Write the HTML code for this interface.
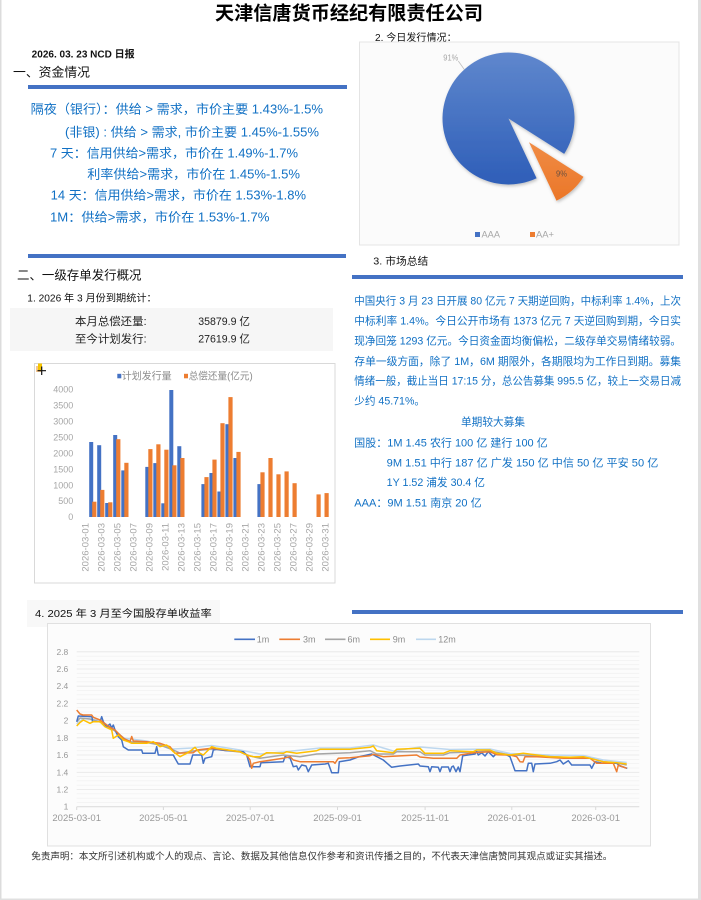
<!DOCTYPE html>
<html><head><meta charset="utf-8"><style>
html,body{margin:0;padding:0;background:#fff;}
body{width:701px;height:900px;overflow:hidden;position:relative;}
svg{position:absolute;left:0;top:0;}
text{font-family:"Liberation Sans","Noto Sans CJK SC",sans-serif;}
</style></head><body>
<svg width="701" height="900" viewBox="0 0 701 900" xmlns="http://www.w3.org/2000/svg">
<defs>
<linearGradient id="gb" x1="0" y1="0" x2="0" y2="1"><stop offset="0" stop-color="#5f87cd"/><stop offset="1" stop-color="#2e5eb8"/></linearGradient>
<linearGradient id="go" x1="0" y1="0" x2="0" y2="1"><stop offset="0" stop-color="#f08c45"/><stop offset="1" stop-color="#eb7628"/></linearGradient>
<filter id="sh" x="-20%" y="-20%" width="140%" height="140%"><feDropShadow dx="1" dy="1.5" stdDeviation="1.5" flood-color="#000" flood-opacity="0.25"/></filter>
</defs>
<!-- page borders -->
<rect x="0" y="0" width="1.5" height="900" fill="#dcdcdc"/>
<rect x="698" y="0" width="3" height="900" fill="#e0e0e0"/>
<rect x="0" y="898.5" width="701" height="1.5" fill="#e0e0e0"/>

<!-- Title -->
<text x="215" y="19.3" font-size="19" font-weight="700" fill="#000" textLength="268" lengthAdjust="spacingAndGlyphs">天津信唐货币经纪有限责任公司</text>
<text x="31.7" y="57.7" font-size="10" font-weight="700" fill="#111" textLength="103" lengthAdjust="spacingAndGlyphs">2026. 03. 23 NCD 日报</text>
<text x="13" y="76.6" font-size="12.5" fill="#111" textLength="77" lengthAdjust="spacingAndGlyphs">一、资金情况</text>
<rect x="28" y="85" width="319" height="4" fill="#4472c4"/>

<!-- blue money lines -->
<g font-size="12.7" fill="#1070c4">
<text x="30.7" y="113.7" textLength="292.3" lengthAdjust="spacingAndGlyphs">隔夜（银行）：供给 &gt; 需求，市价主要 1.43%-1.5%</text>
<text x="65" y="136.4" textLength="254" lengthAdjust="spacingAndGlyphs">(非银) : 供给 &gt; 需求, 市价主要 1.45%-1.55%</text>
<text x="50" y="157.4" textLength="248" lengthAdjust="spacingAndGlyphs">7 天：信用供给&gt;需求，市价在 1.49%-1.7%</text>
<text x="87.3" y="178.7" textLength="212.7" lengthAdjust="spacingAndGlyphs">利率供给&gt;需求，市价在 1.45%-1.5%</text>
<text x="50.7" y="199.7" textLength="255.3" lengthAdjust="spacingAndGlyphs">14 天：信用供给&gt;需求，市价在 1.53%-1.8%</text>
<text x="50" y="221.4" textLength="219.5" lengthAdjust="spacingAndGlyphs">1M：供给&gt;需求，市价在 1.53%-1.7%</text>
</g>

<rect x="28" y="254" width="318" height="4" fill="#4472c4"/>
<text x="17" y="279.6" font-size="12.5" fill="#111" textLength="124.5" lengthAdjust="spacingAndGlyphs">二、一级存单发行概况</text>
<text x="27.3" y="301.7" font-size="10" fill="#111" textLength="129.4" lengthAdjust="spacingAndGlyphs">1. 2026 年 3 月份到期统计：</text>
<rect x="10" y="308" width="323" height="43" fill="#f6f6f6"/>
<g font-size="11" fill="#222">
<text x="75" y="324.8" textLength="71.7" lengthAdjust="spacingAndGlyphs">本月总偿还量:</text>
<text x="198.3" y="324.8" textLength="51.7" lengthAdjust="spacingAndGlyphs">35879.9 亿</text>
<text x="75" y="342.4" textLength="71.7" lengthAdjust="spacingAndGlyphs">至今计划发行:</text>
<text x="198.3" y="342.4" textLength="51.7" lengthAdjust="spacingAndGlyphs">27619.9 亿</text>
</g>

<!-- Bar chart -->
<rect x="34.5" y="363.5" width="300.5" height="219.5" fill="#fff" stroke="#d9d9d9" stroke-width="1"/>
<rect x="36" y="366" width="5" height="6" fill="#f0a040" opacity="0.6"/>
<rect x="38" y="363.5" width="4" height="7" fill="#f5c400"/>
<path d="M41.7 366.5V375M37.5 370.7H46" stroke="#111" stroke-width="1.2"/>
<rect x="117.3" y="373.8" width="4" height="4.5" fill="#4472c4"/>
<text x="121.7" y="379.6" font-size="10" fill="#8c8c8c" textLength="50" lengthAdjust="spacingAndGlyphs">计划发行量</text>
<rect x="184" y="373.8" width="4" height="4.5" fill="#ed7d31"/>
<text x="188.7" y="379.6" font-size="10" fill="#8c8c8c" textLength="64" lengthAdjust="spacingAndGlyphs">总偿还量(亿元)</text>
<g font-size="9" fill="#a6a6a6" text-anchor="end">
<text x="73.3" y="520.2">0</text>
<text x="73.3" y="504.2">500</text>
<text x="73.3" y="488.3">1000</text>
<text x="73.3" y="472.4">1500</text>
<text x="73.3" y="456.4">2000</text>
<text x="73.3" y="440.5">2500</text>
<text x="73.3" y="424.5">3000</text>
<text x="73.3" y="408.6">3500</text>
<text x="73.3" y="392.6">4000</text>
</g>
<g fill="#4472c4">
<rect x="89.2" y="442.0" width="4" height="75.0"/>
<rect x="97.2" y="445.2" width="4" height="71.8"/>
<rect x="105.2" y="503.0" width="4" height="14.0"/>
<rect x="113.2" y="435.0" width="4" height="82.0"/>
<rect x="121.3" y="470.4" width="4" height="46.6"/>
<rect x="145.3" y="466.9" width="4" height="50.1"/>
<rect x="153.3" y="463.1" width="4" height="53.9"/>
<rect x="161.3" y="503.3" width="4" height="13.7"/>
<rect x="169.3" y="390.0" width="4" height="127.0"/>
<rect x="177.3" y="446.2" width="4" height="70.8"/>
<rect x="201.4" y="484.1" width="4" height="32.9"/>
<rect x="209.4" y="473.0" width="4" height="44.0"/>
<rect x="217.4" y="491.5" width="4" height="25.5"/>
<rect x="225.4" y="424.2" width="4" height="92.8"/>
<rect x="233.4" y="458.0" width="4" height="59.0"/>
<rect x="257.4" y="484.1" width="4" height="32.9"/>
</g>
<g fill="#ed7d31">
<rect x="92.2" y="501.7" width="4.2" height="15.3"/>
<rect x="100.2" y="489.9" width="4.2" height="27.1"/>
<rect x="108.2" y="502.3" width="4.2" height="14.7"/>
<rect x="116.2" y="439.2" width="4.2" height="77.8"/>
<rect x="124.3" y="462.8" width="4.2" height="54.2"/>
<rect x="148.3" y="449.1" width="4.2" height="67.9"/>
<rect x="156.3" y="444.3" width="4.2" height="72.7"/>
<rect x="164.3" y="449.7" width="4.2" height="67.3"/>
<rect x="172.3" y="465.3" width="4.2" height="51.7"/>
<rect x="180.3" y="458.0" width="4.2" height="59.0"/>
<rect x="204.4" y="477.1" width="4.2" height="39.9"/>
<rect x="212.4" y="459.6" width="4.2" height="57.4"/>
<rect x="220.4" y="423.2" width="4.2" height="93.8"/>
<rect x="228.4" y="397.1" width="4.2" height="119.9"/>
<rect x="236.4" y="451.9" width="4.2" height="65.1"/>
<rect x="260.4" y="472.3" width="4.2" height="44.7"/>
<rect x="268.4" y="458.0" width="4.2" height="59.0"/>
<rect x="276.4" y="474.3" width="4.2" height="42.7"/>
<rect x="284.5" y="471.4" width="4.2" height="45.6"/>
<rect x="292.5" y="483.2" width="4.2" height="33.8"/>
<rect x="316.5" y="494.4" width="4.2" height="22.6"/>
<rect x="324.5" y="493.1" width="4.2" height="23.9"/>
</g>
<g font-size="9.5" fill="#a6a6a6" text-anchor="end">
<text transform="translate(85,523) rotate(-90)" dy="0.35em">2026-03-01</text>
<text transform="translate(101.02,523) rotate(-90)" dy="0.35em">2026-03-03</text>
<text transform="translate(117.04,523) rotate(-90)" dy="0.35em">2026-03-05</text>
<text transform="translate(133.06,523) rotate(-90)" dy="0.35em">2026-03-07</text>
<text transform="translate(149.08,523) rotate(-90)" dy="0.35em">2026-03-09</text>
<text transform="translate(165.1,523) rotate(-90)" dy="0.35em">2026-03-11</text>
<text transform="translate(181.12,523) rotate(-90)" dy="0.35em">2026-03-13</text>
<text transform="translate(197.14,523) rotate(-90)" dy="0.35em">2026-03-15</text>
<text transform="translate(213.16,523) rotate(-90)" dy="0.35em">2026-03-17</text>
<text transform="translate(229.18,523) rotate(-90)" dy="0.35em">2026-03-19</text>
<text transform="translate(245.2,523) rotate(-90)" dy="0.35em">2026-03-21</text>
<text transform="translate(261.22,523) rotate(-90)" dy="0.35em">2026-03-23</text>
<text transform="translate(277.24,523) rotate(-90)" dy="0.35em">2026-03-25</text>
<text transform="translate(293.26,523) rotate(-90)" dy="0.35em">2026-03-27</text>
<text transform="translate(309.28,523) rotate(-90)" dy="0.35em">2026-03-29</text>
<text transform="translate(325.3,523) rotate(-90)" dy="0.35em">2026-03-31</text>
</g>

<!-- Right: pie -->
<text x="375" y="41" font-size="10" fill="#111" textLength="81.7" lengthAdjust="spacingAndGlyphs">2. 今日发行情况：</text>
<rect x="359.5" y="42" width="319.5" height="203" fill="#fbfbfb" stroke="#e4e4e4" stroke-width="1"/>
<path d="M508.5 118.5 L536.6 178.2 A66 66 0 1 1 564.2 153.9 Z" fill="url(#gb)" filter="url(#sh)"/>
<path d="M529 142.3 L583.5 176.9 A64.5 64.5 0 0 1 556.5 200.7 Z" fill="url(#go)" filter="url(#sh)"/>
<text x="443.3" y="60.5" font-size="8.5" fill="#a6a6a6" textLength="15" lengthAdjust="spacingAndGlyphs">91%</text>
<path d="M458.3 61 L464.3 69.5" stroke="#bfbfbf" stroke-width="0.8"/>
<text x="556" y="176.3" font-size="8.5" fill="#6b5040" textLength="11" lengthAdjust="spacingAndGlyphs">9%</text>
<rect x="475" y="232" width="5" height="5" fill="#4472c4"/>
<text x="481.5" y="237.4" font-size="9" fill="#a6a6a6" textLength="18.5" lengthAdjust="spacingAndGlyphs">AAA</text>
<rect x="530" y="232" width="5" height="5" fill="#ed7d31"/>
<text x="536" y="237.4" font-size="9" fill="#a6a6a6" textLength="18" lengthAdjust="spacingAndGlyphs">AA+</text>

<text x="373.3" y="264.6" font-size="10.5" fill="#111" textLength="55" lengthAdjust="spacingAndGlyphs">3. 市场总结</text>
<rect x="352" y="275" width="331" height="4" fill="#4472c4"/>

<g font-size="10.6" fill="#1070c4">
<text x="354.3" y="304.6" textLength="326.7" lengthAdjust="spacingAndGlyphs">中国央行 3 月 23 日开展 80 亿元 7 天期逆回购，中标利率 1.4%，上次</text>
<text x="354.3" y="324.6" textLength="326.7" lengthAdjust="spacingAndGlyphs">中标利率 1.4%。今日公开市场有 1373 亿元 7 天逆回购到期，今日实</text>
<text x="354.3" y="344.6" textLength="326.7" lengthAdjust="spacingAndGlyphs">现净回笼 1293 亿元。今日资金面均衡偏松，二级存单交易情绪较弱。</text>
<text x="354.3" y="364.9" textLength="326.7" lengthAdjust="spacingAndGlyphs">存单一级方面，除了 1M，6M 期限外，各期限均为工作日到期。募集</text>
<text x="354.3" y="384.6" textLength="326.7" lengthAdjust="spacingAndGlyphs">情绪一般，截止当日 17:15 分，总公告募集 995.5 亿，较上一交易日减</text>
<text x="354.3" y="404.6">少约 45.71%。</text>
<text x="461" y="425.6" textLength="64" lengthAdjust="spacingAndGlyphs">单期较大募集</text>
<text x="354.3" y="446.6" textLength="193.4" lengthAdjust="spacingAndGlyphs">国股：1M 1.45 农行 100 亿  建行 100 亿</text>
<text x="386.7" y="466.6" textLength="271.6" lengthAdjust="spacingAndGlyphs">9M 1.51 中行 187 亿  广发 150 亿  中信 50 亿  平安 50 亿</text>
<text x="386.7" y="486.2" textLength="98.3" lengthAdjust="spacingAndGlyphs">1Y 1.52 浦发 30.4 亿</text>
<text x="354.3" y="506.6" textLength="127.3" lengthAdjust="spacingAndGlyphs">AAA：9M 1.51 南京 20 亿</text>
</g>

<!-- Section 4 -->
<rect x="27" y="600" width="193" height="27" fill="#f8f8f8"/>
<text x="35" y="617" font-size="10" fill="#111" textLength="176.7" lengthAdjust="spacingAndGlyphs">4. 2025 年 3 月至今国股存单收益率</text>
<rect x="352" y="610" width="331" height="4" fill="#4472c4"/>
<rect x="47.5" y="623.5" width="603" height="222.5" fill="#fcfcfc" stroke="#e0e0e0" stroke-width="1"/>

<!-- legend -->
<g font-size="9" fill="#8c8c8c">
<path d="M234.3 639.3H255" stroke="#4472c4" stroke-width="1.6"/><text x="256.7" y="642.6">1m</text>
<path d="M279.3 639.3H300" stroke="#ed7d31" stroke-width="1.6"/><text x="303" y="642.6">3m</text>
<path d="M325 639.3H345.5" stroke="#a5a5a5" stroke-width="1.6"/><text x="347.5" y="642.6">6m</text>
<path d="M370 639.3H390" stroke="#ffc000" stroke-width="1.6"/><text x="392.7" y="642.6">9m</text>
<path d="M416 639.3H436" stroke="#bdd7ee" stroke-width="1.6"/><text x="438.3" y="642.6">12m</text>
</g>
<!-- gridlines minor -->
<path stroke="#f1f1f1" stroke-width="0.8" d="M76.7 802.4H639.3M76.7 798.1H639.3M76.7 793.8H639.3M76.7 785.2H639.3M76.7 780.9H639.3M76.7 776.6H639.3M76.7 768.0H639.3M76.7 763.65H639.3M76.7 759.35H639.3M76.7 750.7H639.3M76.7 746.4H639.3M76.7 742.1H639.3M76.7 733.5H639.3M76.7 729.2H639.3M76.7 724.9H639.3M76.7 716.3H639.3M76.7 712.0H639.3M76.7 707.7H639.3M76.7 699.1H639.3M76.7 694.8H639.3M76.7 690.5H639.3M76.7 681.9H639.3M76.7 677.6H639.3M76.7 673.3H639.3M76.7 664.7H639.3M76.7 660.4H639.3M76.7 656.1H639.3"/>
<path stroke="#e6e6e6" stroke-width="0.8" d="M76.7 789.5H639.3M76.7 772.3H639.3M76.7 755.0H639.3M76.7 737.8H639.3M76.7 720.6H639.3M76.7 703.4H639.3M76.7 686.2H639.3M76.7 669.0H639.3M76.7 651.8H639.3"/>
<path stroke="#d9d9d9" stroke-width="1" d="M76.7 806.7H639.3M76.7 806.7V810M163.4 806.7V810M250.2 806.7V810M337.5 806.7V810M425.1 806.7V810M511.8 806.7V810M595.7 806.7V810"/>
<g font-size="8.5" fill="#999" text-anchor="end">
<text x="68.3" y="654.8">2.8</text>
<text x="68.3" y="672.0">2.6</text>
<text x="68.3" y="689.2">2.4</text>
<text x="68.3" y="706.4">2.2</text>
<text x="68.3" y="723.6">2</text>
<text x="68.3" y="740.8">1.8</text>
<text x="68.3" y="758.0">1.6</text>
<text x="68.3" y="775.3">1.4</text>
<text x="68.3" y="792.5">1.2</text>
<text x="68.3" y="809.7">1</text>
</g>
<g font-size="9.5" fill="#999" text-anchor="middle">
<text x="76.7" y="821">2025-03-01</text>
<text x="163.4" y="821">2025-05-01</text>
<text x="250.2" y="821">2025-07-01</text>
<text x="337.5" y="821">2025-09-01</text>
<text x="425.1" y="821">2025-11-01</text>
<text x="511.8" y="821">2026-01-01</text>
<text x="595.7" y="821">2026-03-01</text>
</g>
<g fill="none" stroke-width="1.5" stroke-linejoin="round">
<polyline stroke="#bdd7ee" points="76.7,724 83.3,718.5 100,720 111.7,728 123.3,738 146.7,741 160,744.5 173.3,749 191.7,748 211.7,745.5 240,750 260,754 283.3,752 320,748 350,748 373.3,745 393.3,751 420,747 450,749.5 490,749 510,753.5 550,755 583.3,755.5 603.3,760 626.7,762.5"/>
<polyline stroke="#a5a5a5" points="76.7,722 80,718 90,719 100,722 106.7,726 115,731 120,735 125,739 131.7,742 146.7,742.5 160,745 173.3,750 180,753 193.3,751 211.7,749 240,752 250,756 260,758.3 283.3,755 300,756.7 316.7,754 350,752.7 370,750.7 376.7,754 393.3,754 396.7,751.7 420,751.7 425,755 443.3,755 450,752.7 473.3,752 490,751 510,755 536.7,755.7 563.3,757.3 590,758.3 603.3,761.7 616.7,763 626.7,765"/>
<polyline stroke="#4472c4" points="76.7,721.7 78.3,716 92,716.7 92.5,721.7 100,721.7 101.7,716.7 103.3,721.7 106.7,726.7 110,724 111.7,728 113.3,725 115,730 118.3,736.7 121.7,740 123.3,746.7 128.3,750 141.7,750 142.7,753.3 155,753.3 156.7,746.7 158.3,755 173.3,755 175,758.3 178.3,764 190,764 192.7,755 201.7,755 203.3,763.3 205,758.3 211.7,756.7 213.3,750 216.7,749.3 225,750.5 235,751 243.3,751.7 246.7,755 250,766.7 260,766.7 261,762.7 283.3,761.7 285,756.7 290,758 293.3,766.7 296.7,766 298.3,770 301.7,765 306,766 308.3,771.7 311.7,765 325,764 328.3,763.3 331.7,772.7 338.3,772.7 339.3,761.7 350,760 358,757 371.7,754 383.3,760 391.7,767.3 400,766 418.3,764 420,766 428.3,766.7 430,771.7 431.7,766.7 438.3,767.3 440,771.7 441.7,767 448.3,767 450,771.7 451.7,767 453.3,766 456,771.7 458.3,767 460,771.7 462.7,755.7 475,754 476.7,751.7 478.3,755 481.7,752.7 485,756 488.3,751.7 493.3,756.7 496.7,753.3 506.7,755 510,756.7 515,770.7 526.7,770.7 528.3,763.3 531.7,763.3 533.3,771.7 535,764 550,763.3 556.7,761.7 560,760 563.3,764 568.3,760.7 571.7,765 590,765 591.7,768.3 595,761.7 603.3,763.3 616.7,763.3 620,766 627.3,768.3"/>
<polyline stroke="#ed7d31" points="76.7,710 80,714 83,715 91.7,715 93.3,717.3 100,720 106.7,725 110,727.3 115,730 118.3,733.3 123.3,738.3 130,741.7 131.7,736.5 133.3,741 146.7,741.7 160,743.3 170,746.7 175,753.3 193.3,752.7 196.7,750 211.7,748.3 226.7,750 240,751.7 246.7,755 250,760 251.7,768.3 253.3,763.3 260,761.7 283.3,758.3 290,756.7 293.3,760 300,761.7 320,761.7 333.3,761.7 335,763.3 338.3,758.3 350,757.7 370,755.7 373.3,754.3 383.3,756.7 416.7,755 420,757 433.3,758.3 456.7,758.3 460,755 473.3,752.7 490,751.7 496.7,754.7 510,755 516.7,756.7 520,761.7 523,762 525,756.7 537,756.7 563.3,758.3 590,758.3 596.7,763.3 613.3,763.3 616.7,771.7 618.3,765 626.7,768.3"/>
<polyline stroke="#ffc000" points="76.7,726 80,722.5 83.3,720 90,723.3 93.3,721.7 100,721.7 105,726.7 111.7,730 113.3,738.3 118.3,735 123.3,740 128.3,741.7 131.7,743.3 146.7,743.3 153.3,741.7 160,746.7 166.7,745 173.3,751.7 180,756.7 186.7,753.3 191.7,750 195,747.3 200,753.3 203.3,755 211.7,746.7 216.7,748.3 240,751.7 246.7,755 253.3,756.7 260,756.7 266.7,752.7 283.3,753.3 286.7,751.7 296.7,753.3 316.7,750.7 320,749.3 350,749.3 370,747.3 373.3,746 376.7,750.7 393.3,752.7 396.7,749.3 420,748.3 425,753.3 443.3,753.3 450,750.7 473.3,751.7 476.7,750 490,750 496.7,753.3 510,755 523.3,753.3 536.7,755 550,756.7 570,757.3 583.3,756.7 590,758.3 603.3,761.7 616.7,762.7 626.7,764"/>
</g>

<!-- disclaimer -->
<text x="31.3" y="859.5" font-size="9.5" fill="#333" textLength="581" lengthAdjust="spacingAndGlyphs">免责声明：本文所引述机构或个人的观点、言论、数据及其他信息仅作参考和资讯传播之目的，不代表天津信唐赞同其观点或证实其描述。</text>
</svg>
</body></html>
